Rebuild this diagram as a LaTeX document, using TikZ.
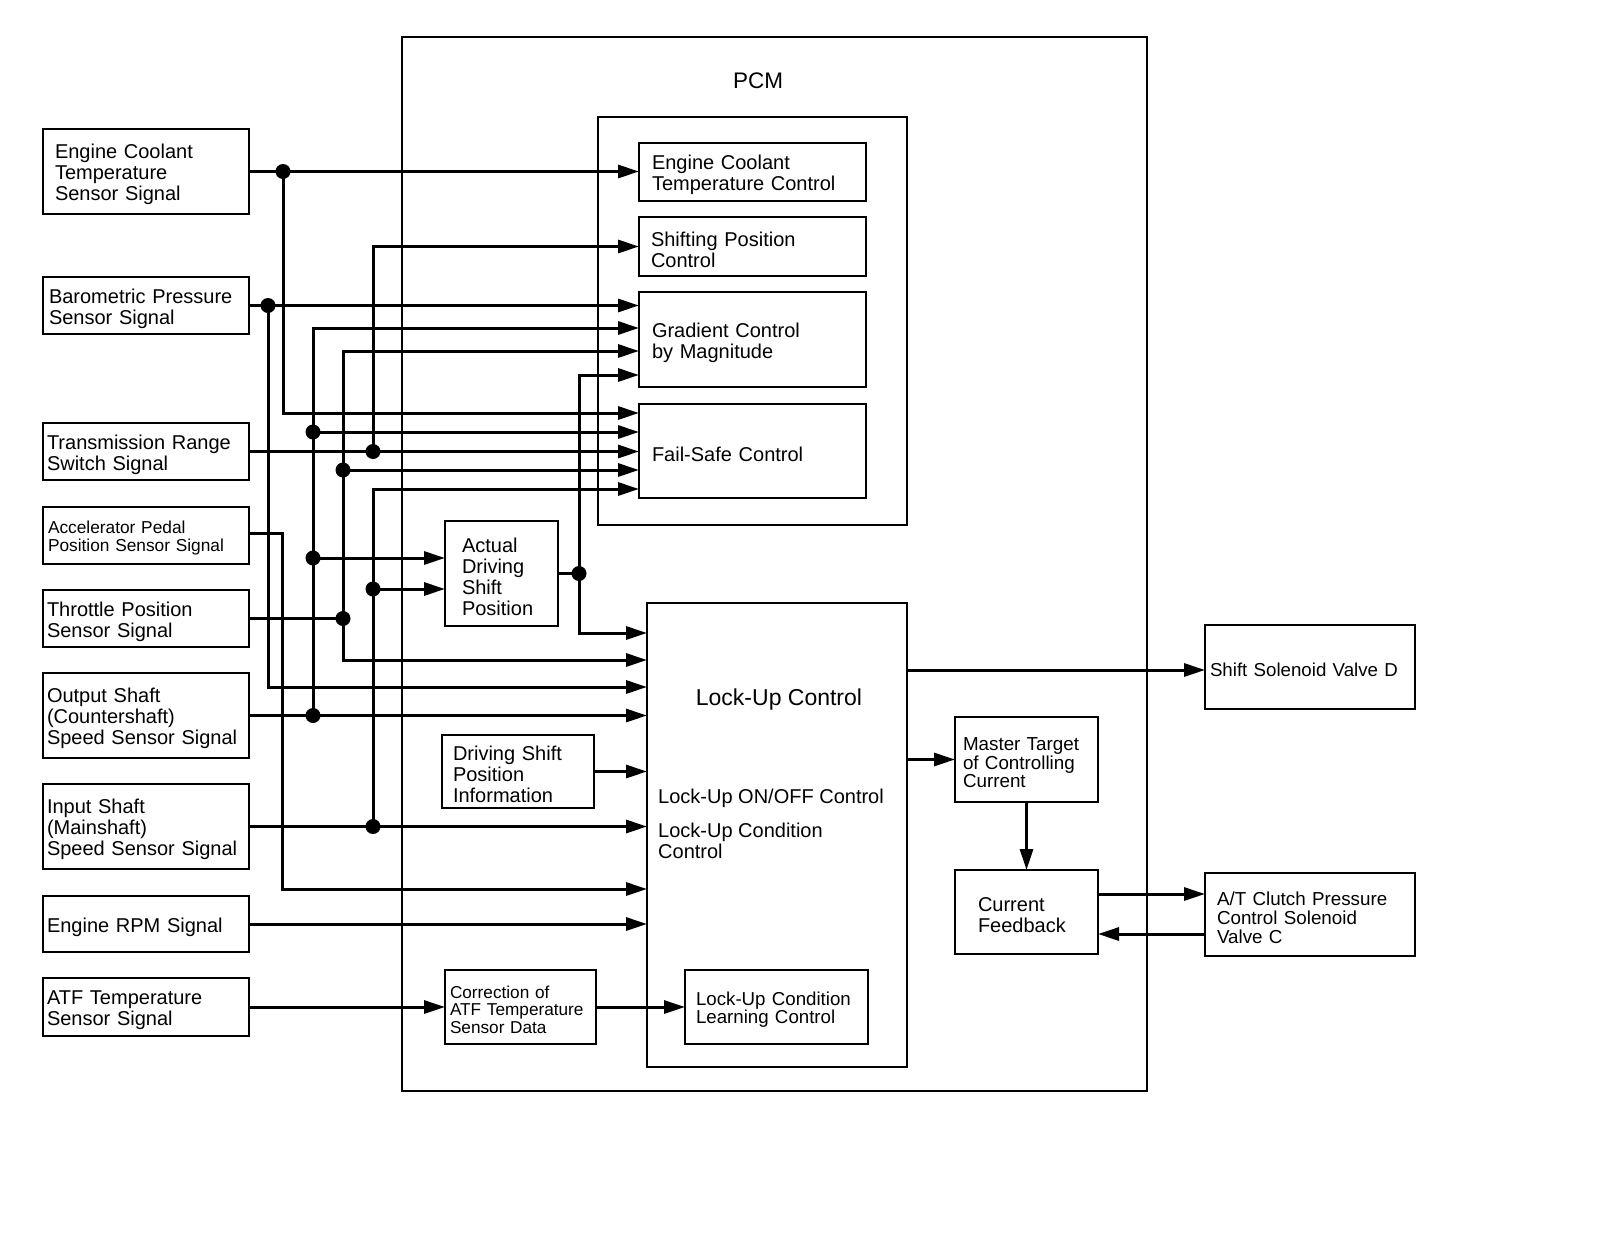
\documentclass[tikz,border=0pt]{standalone}
\usepackage{fontspec}
\setmainfont{Liberation Sans}
\usetikzlibrary{arrows.meta}
\begin{document}
\begin{tikzpicture}[x=1pt,y=-1pt,
  box/.style={draw, line width=1.6pt, inner ysep=0pt, outer sep=0pt, align=left, anchor=north west,
    execute at begin node={\rule{0pt}{1.02em}}},
  wire/.style={line width=3pt},
  arr/.style={line width=3pt, -{Triangle[length=21pt,width=13pt]}},
  dot/.style={circle, fill, inner sep=0pt, outer sep=0pt, minimum size=15pt},
  fA/.style={font=\fontsize{20}{21}\selectfont},
  fB/.style={font=\fontsize{17.3}{18}\selectfont},
  fC/.style={font=\fontsize{18.7}{18.8}\selectfont},
]
\useasboundingbox (0,0) rectangle (1600,1237);

% PCM frame
\node[box, line width=1.3pt, minimum width=745pt, minimum height=1054pt, inner xsep=0pt] (pcm) at (402,37) {};
\node[font=\fontsize{22.5}{24}\selectfont, inner sep=0pt] (pcmlabel) at (758,81) {PCM};
\node[box, minimum width=309pt, minimum height=408pt, inner xsep=0pt] (inner) at (598,117) {};

% left input boxes
\node[box, fA, minimum width=206pt, minimum height=85pt, text width=182pt, inner xsep=12pt] (ecs) at (43,129) {Engine Coolant\\Temperature\\Sensor Signal};
\node[box, fA, minimum width=206pt, minimum height=57pt, text width=194pt, inner xsep=6pt] (bps) at (43,277) {Barometric Pressure\\Sensor Signal};
\node[box, fA, minimum width=206pt, minimum height=57pt, text width=198pt, inner xsep=4pt] (trs) at (43,423) {Transmission Range\\Switch Signal};
\node[box, fB, minimum width=206pt, minimum height=57pt, text width=196pt, inner xsep=5pt] (aps) at (43,507) {Accelerator Pedal\\Position Sensor Signal};
\node[box, fA, minimum width=206pt, minimum height=57pt, text width=198pt, inner xsep=4pt] (tps) at (43,590) {Throttle Position\\Sensor Signal};
\node[box, fA, minimum width=206pt, minimum height=85pt, text width=198pt, inner xsep=4pt] (oss) at (43,673) {Output Shaft\\(Countershaft)\\Speed Sensor Signal};
\node[box, fA, minimum width=206pt, minimum height=85pt, text width=198pt, inner xsep=4pt] (iss) at (43,784) {Input Shaft\\(Mainshaft)\\Speed Sensor Signal};
\node[box, fA, minimum width=206pt, minimum height=56pt, text width=198pt, inner xsep=4pt] (rpm) at (43,896) {Engine RPM Signal};
\node[box, fA, minimum width=206pt, minimum height=58pt, text width=198pt, inner xsep=4pt] (atf) at (43,978) {ATF Temperature\\Sensor Signal};

% control blocks in the upper group
\node[box, fA, minimum width=227pt, minimum height=58pt, text width=201pt, inner xsep=13pt] (ectc) at (639,143) {Engine Coolant\\Temperature Control};
\node[box, fA, minimum width=227pt, minimum height=59pt, text width=203pt, inner xsep=12pt] (spc) at (639,217) {Shifting Position\\Control};
\node[box, fA, minimum width=227pt, minimum height=95pt, text width=201pt, inner xsep=13pt] (gcm) at (639,292) {Gradient Control\\by Magnitude};
\node[box, fA, minimum width=227pt, minimum height=94pt, text width=201pt, inner xsep=13pt] (fsc) at (639,404) {Fail-Safe Control};

% middle blocks
\node[box, fA, minimum width=113pt, minimum height=105pt, text width=79pt, inner xsep=17pt] (adsp) at (445,521) {Actual\\Driving\\Shift\\Position};
\node[box, minimum width=260pt, minimum height=464pt, inner xsep=0pt] (luc) at (647,603) {};
\node[font=\fontsize{23}{24}\selectfont, inner sep=0pt] (lutitle) at (779,699.5) {Lock-Up Control};
\node[fA, anchor=west, inner sep=0pt] (luon) at (658,798.5) {Lock-Up ON/OFF Control};
\node[fA, anchor=west, align=left, inner sep=0pt] (lucc) at (658,840.5) {Lock-Up Condition\\Control};
\node[box, fA, minimum width=152pt, minimum height=73pt, text width=130pt, inner xsep=11pt] (dspi) at (442,735) {Driving Shift\\Position\\Information};
\node[box, font=\fontsize{17.2}{17.5}\selectfont, minimum width=151pt, minimum height=74pt, text width=141pt, inner xsep=5pt] (corr) at (445,970) {Correction of\\ATF Temperature\\Sensor Data};
\node[box, font=\fontsize{18.7}{18.6}\selectfont, minimum width=183pt, minimum height=74pt, text width=161pt, inner xsep=11pt] (lclc) at (685,970) {Lock-Up Condition\\Learning Control};

% right blocks
\node[box, font=\fontsize{18.8}{18.7}\selectfont, minimum width=143pt, minimum height=85pt, text width=127pt, inner xsep=8pt] (mtcc) at (955,717) {Master Target\\of Controlling\\Current};
\node[box, fA, minimum width=143pt, minimum height=84pt, text width=97pt, inner xsep=23pt] (cfb) at (955,870) {Current\\Feedback};
\node[box, fC, minimum width=210pt, minimum height=84pt, text width=200pt, inner xsep=5pt] (ssvd) at (1205,625) {Shift Solenoid Valve D};
\node[box, font=\fontsize{18.8}{19}\selectfont, minimum width=210pt, minimum height=83pt, text width=186pt, inner xsep=12pt] (atc) at (1205,873) {A/T Clutch Pressure\\Control Solenoid\\Valve C};

% junction dots
\node[dot] (dEct) at (283,171.5) {};
\node[dot] (dBp) at (268,305.5) {};
\node[dot] (dTr) at (373,451.5) {};
\node[dot] (dOs) at (313,715.5) {};
\node[dot] (dOs2) at (313,432) {};
\node[dot] (dOs3) at (313,558) {};
\node[dot] (dTp) at (343,618.5) {};
\node[dot] (dTp2) at (343,470) {};
\node[dot] (dIs) at (373,826.5) {};
\node[dot] (dIs2) at (373,589) {};
\node[dot] (dAd) at (579,573.5) {};

% bend points
\coordinate (cEct) at (283,413);
\coordinate (cBp) at (268,687);
\coordinate (cTr) at (373,246.5);
\coordinate (cOs) at (313,328);
\coordinate (cTpA) at (343,351);
\coordinate (cTpB) at (343,660);
\coordinate (cIs) at (373,489);
\coordinate (cAdA) at (579,375);
\coordinate (cAdB) at (579,633);
\coordinate (cApA) at (282,533);
\coordinate (cApB) at (282,889);
\coordinate (cSs) at (1205,670);

% Engine coolant temperature
\draw[arr] (ecs.east) -- (ecs.east -| ectc.west);
\draw[arr] (dEct.center) -- (cEct) -- (cEct -| fsc.west);
% Barometric pressure
\draw[arr] (bps.east) -- (bps.east -| gcm.west);
\draw[arr] (dBp.center) -- (cBp) -- (cBp -| luc.west);
% Transmission range
\draw[arr] (trs.east) -- (trs.east -| fsc.west);
\draw[arr] (dTr.center) -- (cTr) -- (cTr -| spc.west);
% Accelerator pedal
\draw[arr] (aps.east |- cApA) -- (cApA) -- (cApB) -- (cApB -| luc.west);
% Throttle position
\draw[wire] (tps.east) -- (dTp.center);
\draw[arr] (dTp.center) -- (cTpA) -- (cTpA -| gcm.west);
\draw[arr] (dTp.center) -- (cTpB) -- (cTpB -| luc.west);
\draw[arr] (dTp2.center) -- (dTp2 -| fsc.west);
% Output shaft
\draw[arr] (oss.east) -- (oss.east -| luc.west);
\draw[arr] (dOs.center) -- (cOs) -- (cOs -| gcm.west);
\draw[arr] (dOs2.center) -- (dOs2 -| fsc.west);
\draw[arr] (dOs3.center) -- (dOs3 -| adsp.west);
% Input shaft
\draw[arr] (iss.east) -- (iss.east -| luc.west);
\draw[arr] (dIs.center) -- (cIs) -- (cIs -| fsc.west);
\draw[arr] (dIs2.center) -- (dIs2 -| adsp.west);
% Actual driving shift position
\draw[wire] (adsp.east) -- (dAd.center);
\draw[arr] (dAd.center) -- (cAdA) -- (cAdA -| gcm.west);
\draw[arr] (dAd.center) -- (cAdB) -- (cAdB -| luc.west);
% Engine RPM, ATF
\draw[arr] (rpm.east) -- (rpm.east -| luc.west);
\draw[arr] (atf.east) -- (atf.east -| corr.west);
\draw[arr] (corr.east) -- (corr.east -| lclc.west);
\draw[arr] (dspi.east) -- (dspi.east -| luc.west);
% outputs
\draw[arr] (luc.east |- cSs) -- (cSs);
\draw[arr] (luc.east |- mtcc.west) -- (mtcc.west);
\draw[arr] (mtcc.south) -- (cfb.north);
\draw[arr] ([yshift=18pt]cfb.east) -- ([yshift=18pt]cfb.east -| atc.west);
\draw[arr] ([yshift=-22pt]cfb.east -| atc.west) -- ([yshift=-22pt]cfb.east);
\end{tikzpicture}
\end{document}
